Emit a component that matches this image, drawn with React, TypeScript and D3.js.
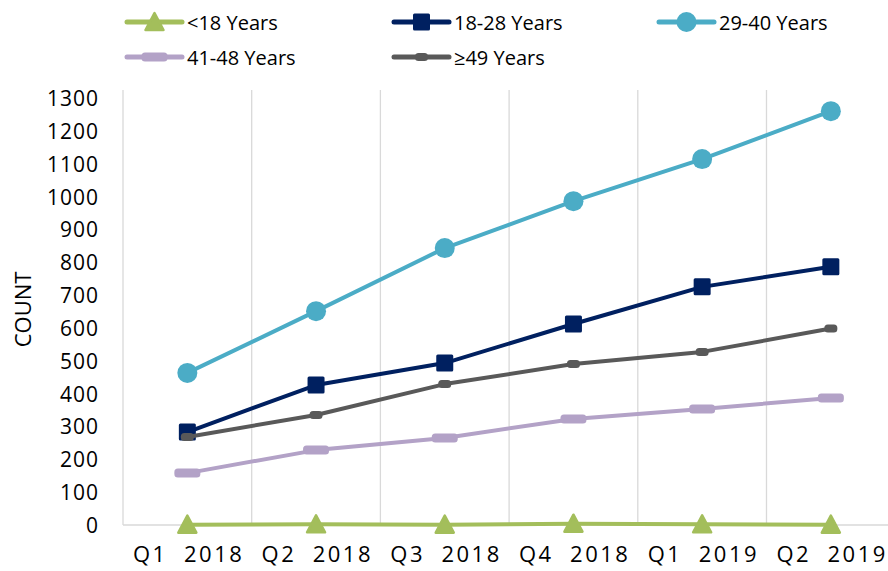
import React from "react";
import * as d3 from "d3";

const categories = ["Q1  2018", "Q2  2018", "Q3  2018", "Q4  2018", "Q1  2019", "Q2  2019"];
const under18 = [1, 2, 1, 4, 2, 1];
const age18to28 = [283, 426, 493, 612, 725, 786];
const age29to40 = [463, 651, 843, 986, 1114, 1260];
const age41to48 = [158, 228, 265, 323, 353, 387];
const age49plus = [268, 335, 429, 490, 527, 598];
const yTicks = d3.range(0, 1301, 100);

const series = [
  { name: "<18 Years", values: under18, color: "#A3BE5B", marker: "triangle" },
  { name: "18-28 Years", values: age18to28, color: "#002060", marker: "square" },
  { name: "29-40 Years", values: age29to40, color: "#4BACC6", marker: "circle" },
  { name: "41-48 Years", values: age41to48, color: "#B3A2C7", marker: "dash" },
  { name: "≥49 Years", values: age49plus, color: "#595959", marker: "smalldash" },
];

const W = 888, H = 571;
const left = 123, bandW = 128.7, top = 98, bottom = 525;
const FONT = "'Open Sans', 'Liberation Sans', sans-serif";

function Marker({ type, x, y, color }: { type: string; x: number; y: number; color: string }) {
  if (type === "triangle") {
    return <path d={`M${x},${y - 9} L${x + 9},${y + 8} L${x - 9},${y + 8} Z`} fill={color} stroke={color} strokeWidth={2.5} strokeLinejoin="round" />;
  }
  if (type === "square") return <rect x={x - 8.5} y={y - 8.5} width={17} height={17} rx={1.5} fill={color} />;
  if (type === "circle") return <circle cx={x} cy={y} r={10} fill={color} />;
  if (type === "dash") return <rect x={x - 13} y={y - 4.5} width={26} height={9} rx={3.5} fill={color} />;
  return <rect x={x - 6.5} y={y - 4} width={13} height={8} rx={3.5} fill={color} />;
}

export default function App() {
  const x = d3.scaleBand<string>().domain(categories).range([left, left + bandW * 6]);
  const y = d3.scaleLinear().domain([0, 1300]).range([bottom, top]);
  const cx = (c: string) => (x(c) as number) + x.bandwidth() / 2;
  const line = d3.line<number>().x((_, i) => cx(categories[i])).y((d) => y(d));

  const legendPos = [
    { lx: 127, ly: 22 },
    { lx: 394, ly: 22 },
    { lx: 659, ly: 22 },
    { lx: 127, ly: 57 },
    { lx: 394, ly: 57 },
  ];

  return (
    <svg width={W} height={H} style={{ position: "absolute", left: 0, top: 0, background: "#fff" }} fontFamily={FONT}>
      {categories.slice(1).map((c) => (
        <line key={c} x1={x(c)} x2={x(c)} y1={top - 8} y2={bottom} stroke="#D9D9D9" strokeWidth={1.3} />
      ))}
      <line x1={left} x2={left} y1={top - 8} y2={bottom} stroke="#D9D9D9" strokeWidth={1.3} />
      <line x1={left} x2={W} y1={bottom} y2={bottom} stroke="#D9D9D9" strokeWidth={1.3} />
      {yTicks.map((t) => (
        <text key={t} x={99} y={y(t)} textAnchor="end" dominantBaseline="central" fontSize={21} letterSpacing={1} fill="#000">{t}</text>
      ))}
      <text transform={`translate(22,${(top + bottom) / 2 - 2}) rotate(-90)`} textAnchor="middle" dominantBaseline="central" fontSize={22}>COUNT</text>
      {categories.map((c) => (
        <text key={c} x={cx(c) + 1.25} y={553} textAnchor="middle" dominantBaseline="central" fontSize={22} letterSpacing={2.5} style={{ whiteSpace: "pre" }}>{c}</text>
      ))}
      {series.map((s) => (
        <g key={s.name}>
          <path d={line(s.values) as string} fill="none" stroke={s.color} strokeWidth={4} strokeLinejoin="round" strokeLinecap="round" />
          {s.values.map((v, i) => (
            <Marker key={i} type={s.marker} x={cx(categories[i])} y={y(v)} color={s.color} />
          ))}
        </g>
      ))}
      {series.map((s, i) => {
        const p = legendPos[i];
        return (
          <g key={s.name}>
            <line x1={p.lx} x2={p.lx + 55} y1={p.ly} y2={p.ly} stroke={s.color} strokeWidth={5} strokeLinecap="round" />
            <Marker type={s.marker} x={p.lx + 27.5} y={p.ly} color={s.color} />
            <text x={p.lx + 60} y={p.ly} dominantBaseline="central" fontSize={20}>{s.name}</text>
          </g>
        );
      })}
    </svg>
  );
}
